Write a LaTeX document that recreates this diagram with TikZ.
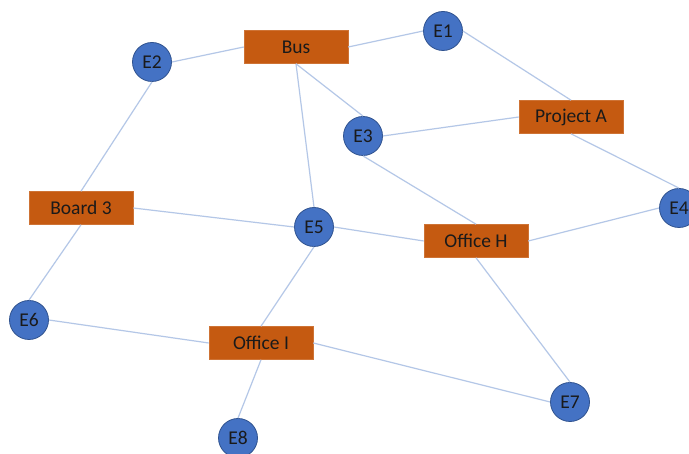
\documentclass[tikz,border=0pt]{standalone}
\usepackage{fontspec}
\setmainfont{Carlito}
\definecolor{edgec}{HTML}{B4C7E7}
\definecolor{circfill}{HTML}{4472C4}
\definecolor{circdraw}{HTML}{2F528F}
\definecolor{boxfill}{HTML}{C55A11}
\definecolor{txt}{HTML}{1A1A1A}
\begin{document}
\begin{tikzpicture}[x=1pt,y=-1pt,
  ent/.style={circle,fill=circfill,draw=circdraw,line width=0.8pt,minimum size=39pt,inner sep=0pt,text=txt,font=\fontsize{19.5}{21}\selectfont},
  place/.style={rectangle,fill=boxfill,draw=boxfill!85!white,line width=0.6pt,minimum width=104pt,minimum height=33pt,inner sep=0pt,text=txt,font=\fontsize{19.5}{21}\selectfont},
  link/.style={draw=edgec,line width=1.2pt}]
\useasboundingbox (0,0) rectangle (689,454);
\fill[white] (0,0) rectangle (689,454);
% edges first (behind nodes)
\path (296,47) coordinate (cbus);
% nodes
\node[place] (bus) at (296,47) {Bus};
\node[place] (proja) at (571,117) {Project A};
\node[place] (board) at (81,208) {Board 3};
\node[place] (offh) at (476,241) {Office H};
\node[place] (offi) at (261,343) {Office I};
\node[ent] (e1) at (443,31) {E1};
\node[ent] (e2) at (152,62) {E2};
\node[ent] (e3) at (363,136) {E3};
\node[ent] (e4) at (679,208) {E4};
\node[ent] (e5) at (314,227) {E5};
\node[ent] (e6) at (29,320) {E6};
\node[ent] (e7) at (570,402) {E7};
\node[ent] (e8) at (238,438) {E8};
% edges
\draw[link] (e2.east) -- (bus.west);
\draw[link] (bus.east) -- (e1.west);
\draw[link] (e1.east) -- (proja.north);
\draw[link] (bus.south) -- (e3.north);
\draw[link] (bus.south) -- (e5.north);
\draw[link] (e3.east) -- (proja.west);
\draw[link] (proja.south) -- (e4.north);
\draw[link] (e3.south) -- (offh.north);
\draw[link] (e2.south) -- (board.north);
\draw[link] (board.east) -- (e5.west);
\draw[link] (board.south) -- (e6.north);
\draw[link] (e5.east) -- (offh.west);
\draw[link] (offh.east) -- (e4.west);
\draw[link] (offh.south) -- (e7.north);
\draw[link] (e5.south) -- (offi.north);
\draw[link] (e6.east) -- (offi.west);
\draw[link] (offi.east) -- (e7.west);
\draw[link] (offi.south) -- (e8.north);
\end{tikzpicture}
\end{document}
